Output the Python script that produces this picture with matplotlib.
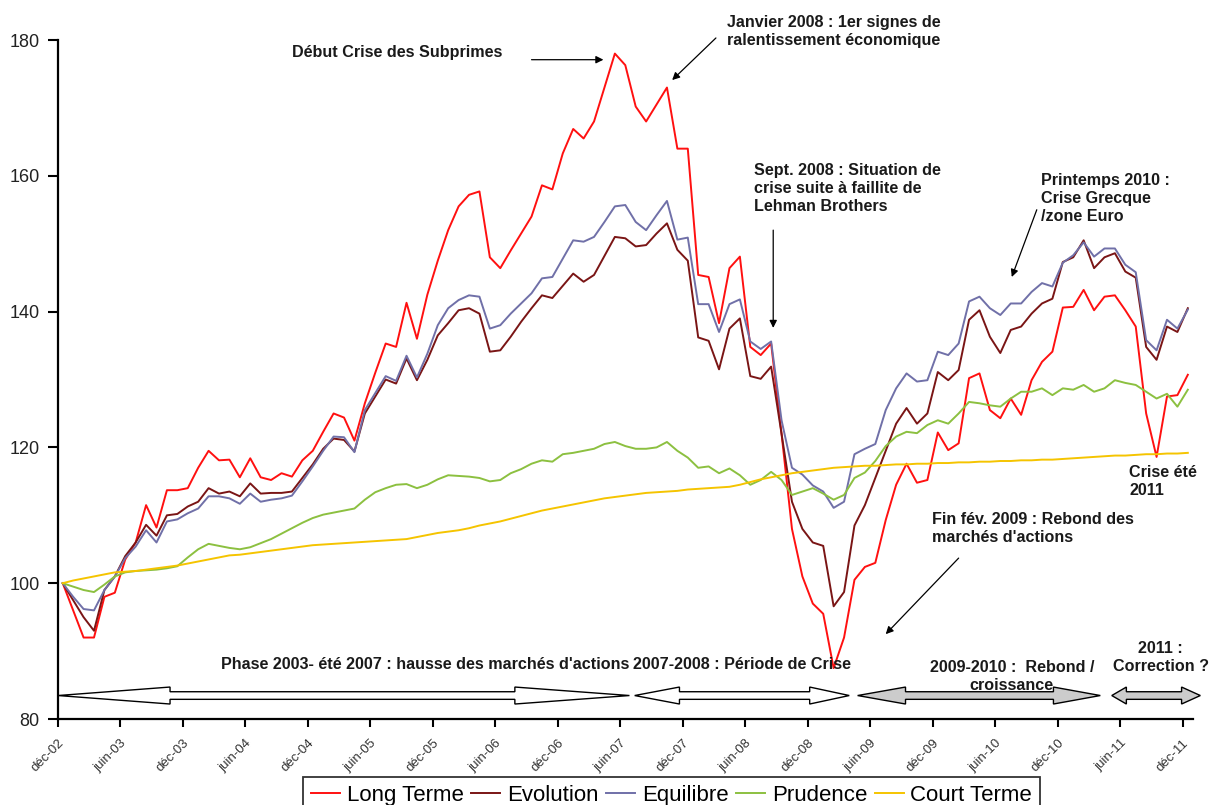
import numpy as np
import matplotlib
matplotlib.use('Agg')
import matplotlib.pyplot as plt
from matplotlib.patches import Polygon

plt.rcParams['font.family'] = ['Liberation Sans', 'DejaVu Sans']

# monthly index, dec 2002 = 100
tick_labels = ['déc-02', 'juin-03', 'déc-03', 'juin-04', 'déc-04', 'juin-05',
               'déc-05', 'juin-06', 'déc-06', 'juin-07', 'déc-07', 'juin-08',
               'déc-08', 'juin-09', 'déc-09', 'juin-10', 'déc-10', 'juin-11',
               'déc-11']

long_terme = [100, 96, 92, 92, 98, 98.6, 103.5, 106, 111.5, 108.2,
              113.7, 113.7, 114, 117, 119.5, 118.1, 118.2, 115.6, 118.4, 115.6,
              115.2, 116.2, 115.7, 118.1, 119.5, 122.3, 125, 124.4, 121, 126.5,
              131, 135.3, 134.8, 141.3, 136, 142.5, 147.5, 152, 155.5, 157.2,
              157.7, 148, 146.4, 149, 151.5, 154, 158.6, 158, 163.3, 166.9,
              165.5, 168, 173, 178, 176.3, 170.2, 168, 170.5, 173, 164,
              164, 145.4, 145.1, 138.3, 146.4, 148.1, 134.8, 133.6, 135.3, 122,
              108, 101, 97, 95.5, 87.5, 92, 100.5, 102.4, 103, 109.3,
              114.5, 117.6, 114.8, 115.2, 122.2, 119.6, 120.6, 130.2, 130.9, 125.5,
              124.3, 127.2, 124.8, 129.9, 132.6, 134.1, 140.6, 140.7, 143.2, 140.2,
              142.2, 142.4, 140.2, 137.8, 125, 118.6, 127.5, 127.7, 130.7]

evolution = [100, 97.5, 95, 93, 99, 101, 104, 106, 108.6, 107,
             110, 110.2, 111.3, 112, 114, 113.2, 113.5, 112.8, 114.7, 113.2,
             113.3, 113.3, 113.5, 115.5, 117.5, 119.8, 121.3, 121.1, 119.4, 125,
             127.5, 130, 129.4, 133.1, 129.9, 132.9, 136.5, 138.3, 140.2, 140.5,
             139.7, 134.1, 134.3, 136.3, 138.5, 140.5, 142.4, 142, 143.8, 145.6,
             144.4, 145.4, 148.2, 151, 150.8, 149.6, 149.8, 151.5, 153, 149.1,
             147.5, 136.2, 135.7, 131.5, 137.5, 139, 130.5, 130.1, 131.9, 122,
             112, 108, 106, 105.5, 96.6, 98.7, 108.5, 111.5, 115.5, 119.5,
             123.5, 125.8, 123.5, 125, 131.1, 129.9, 131.4, 138.8, 140.2, 136.3,
             133.9, 137.3, 137.8, 139.7, 141.2, 141.9, 147.3, 148, 150.5, 146.4,
             148, 148.6, 145.9, 145, 134.8, 132.9, 137.8, 137, 140.5]

equilibre = [100, 98, 96.2, 96, 99, 101, 103.7, 105.4, 107.8, 106,
             109.1, 109.4, 110.3, 111, 112.8, 112.8, 112.5, 111.7, 113.2, 112,
             112.3, 112.5, 112.9, 115, 117.2, 119.5, 121.6, 121.5, 119.3, 125.5,
             128, 130.5, 129.8, 133.5, 130.3, 133.8, 138, 140.5, 141.7, 142.4,
             142.2, 137.5, 138, 139.7, 141.2, 142.7, 144.9, 145.1, 147.8, 150.5,
             150.3, 151, 153.2, 155.5, 155.7, 153.2, 152, 154.2, 156.3, 150.6,
             150.9, 141.1, 141.1, 137, 141.1, 141.8, 135.6, 134.5, 135.6, 124,
             117, 116, 114.4, 113.5, 111.1, 112, 119, 119.8, 120.5, 125.5,
             128.7, 130.9, 129.7, 129.9, 134.1, 133.6, 135.3, 141.5, 142.2, 140.5,
             139.5, 141.2, 141.2, 142.9, 144.2, 143.7, 147.2, 148.3, 150.2, 148.1,
             149.3, 149.3, 146.9, 145.8, 135.8, 134.3, 138.8, 137.5, 140.3]

prudence = [100, 99.5, 99, 98.7, 99.8, 101, 101.6, 101.8, 101.9, 102,
            102.2, 102.5, 103.8, 105, 105.8, 105.5, 105.2, 105, 105.3, 105.9,
            106.5, 107.3, 108.1, 108.9, 109.6, 110.1, 110.4, 110.7, 111, 112.3,
            113.4, 114, 114.5, 114.6, 114, 114.5, 115.3, 115.9, 115.8, 115.7,
            115.5, 115, 115.2, 116.2, 116.8, 117.6, 118.1, 117.9, 119, 119.2,
            119.5, 119.8, 120.5, 120.8, 120.2, 119.8, 119.8, 120, 120.8, 119.5,
            118.5, 117, 117.2, 116.2, 116.9, 115.9, 114.5, 115.2, 116.4, 115.2,
            113, 113.5, 114, 113.2, 112.3, 113, 115.5, 116.3, 118, 120.2,
            121.6, 122.3, 122.1, 123.3, 124, 123.5, 125, 126.7, 126.5, 126.2,
            126, 127.2, 128.2, 128.2, 128.7, 127.7, 128.7, 128.5, 129.2, 128.2,
            128.7, 129.9, 129.5, 129.2, 128.2, 127.2, 127.9, 126, 128.5]

court_terme = [100.0, 100.4, 100.7, 101.0, 101.3, 101.6, 101.7, 101.8, 102.0, 102.2,
               102.4, 102.6, 102.9, 103.2, 103.5, 103.8, 104.1, 104.2, 104.4, 104.6,
               104.8, 105.0, 105.2, 105.4, 105.6, 105.7, 105.8, 105.9, 106.0, 106.1,
               106.2, 106.3, 106.4, 106.5, 106.8, 107.1, 107.4, 107.6, 107.8, 108.1,
               108.5, 108.8, 109.1, 109.5, 109.9, 110.3, 110.7, 111.0, 111.3, 111.6,
               111.9, 112.2, 112.5, 112.7, 112.9, 113.1, 113.3, 113.4, 113.5, 113.6,
               113.8, 113.9, 114.0, 114.1, 114.2, 114.5, 114.9, 115.3, 115.6, 115.9,
               116.2, 116.4, 116.6, 116.8, 117.0, 117.1, 117.2, 117.3, 117.3, 117.4,
               117.5, 117.5, 117.6, 117.6, 117.7, 117.7, 117.8, 117.8, 117.9, 117.9,
               118.0, 118.0, 118.1, 118.1, 118.2, 118.2, 118.3, 118.4, 118.5, 118.6,
               118.7, 118.8, 118.8, 118.9, 119.0, 119.0, 119.1, 119.1, 119.2]

series = [('Long Terme', long_terme, '#ff1010'),
          ('Evolution', evolution, '#7a1515'),
          ('Equilibre', equilibre, '#7070a8'),
          ('Prudence', prudence, '#8cc040'),
          ('Court Terme', court_terme, '#f5c400')]

x = np.arange(len(long_terme))

fig = plt.figure(figsize=(12.19, 8.05), dpi=100, facecolor='w')
ax = fig.add_axes([0.0472, 0.1068, 0.9315, 0.8435])

for name, vals, col in series:
    ax.plot(x, vals, color=col, lw=1.4, label=name)

ax.set_xlim(-0.5, 108.5)
ax.set_ylim(80, 180)
ax.set_yticks(range(80, 181, 20))
ax.set_xticks(np.arange(-0.5, 108, 6))
ax.set_xticklabels(tick_labels, rotation=45, ha='right', va='top',
                   rotation_mode='anchor', fontsize=9.5, color='#333333')
ax.tick_params(axis='x', direction='out', length=6, width=1.5, pad=7)
ax.tick_params(axis='y', direction='out', length=7, width=1.5, pad=6,
               labelsize=13, labelcolor='#222222')
for s in ['top', 'right']:
    ax.spines[s].set_visible(False)
for s in ['left', 'bottom']:
    ax.spines[s].set_linewidth(1.6)

# annotations
txt = dict(fontsize=11.6, fontweight='bold', color='#1a1a1a', linespacing=1.25)
arr = dict(arrowstyle='-|>', color='black', lw=0.9, mutation_scale=11,
           shrinkA=0, shrinkB=0)

ax.text(22.0, 178.2, 'Début Crise des Subprimes', va='center', **txt)
ax.annotate('', xy=(51.9, 177.1), xytext=(45.0, 177.1), arrowprops=arr,
            annotation_clip=False)

ax.text(63.8, 181.25, 'Janvier 2008 : 1er signes de\nralentissement économique',
        va='center', **txt)
ax.annotate('', xy=(58.5, 174.1), xytext=(62.7, 180.3), arrowprops=arr,
            annotation_clip=False)

ax.text(66.4, 158.2, 'Sept. 2008 : Situation de\ncrise suite à faillite de\nLehman Brothers',
        va='center', **txt)
ax.annotate('', xy=(68.2, 137.6), xytext=(68.2, 152.0), arrowprops=arr)

ax.text(93.9, 156.7, 'Printemps 2010 :\nCrise Grecque\n/zone Euro', va='center', **txt)
ax.annotate('', xy=(91.1, 145.1), xytext=(93.5, 155.0), arrowprops=arr)

ax.text(102.4, 115.05, 'Crise été\n2011', va='center', **txt)

ax.text(83.4, 108.0, "Fin fév. 2009 : Rebond des\nmarchés d'actions", va='center', **txt)
ax.annotate('', xy=(79.0, 92.5), xytext=(86.0, 103.7), arrowprops=arr)

ax.text(15.2, 88.1, "Phase 2003- été 2007 : hausse des marchés d'actions",
        va='center', **txt)
ax.text(54.7, 88.1, '2007-2008 : Période de Crise', va='center', **txt)
ax.text(91.1, 86.33, '2009-2010 :  Rebond /\ncroissance', va='center',
        ha='center', **txt)
ax.text(105.4, 89.06, '2011 :\nCorrection ?', va='center', ha='center',
        **txt)


def block_arrow(x0, x1, h0, h1, fill):
    yc, sw, hw = 83.46, 0.56, 1.25
    pts = [(x0, yc), (x0 + h0, yc + hw), (x0 + h0, yc + sw),
           (x1 - h1, yc + sw), (x1 - h1, yc + hw), (x1, yc),
           (x1 - h1, yc - hw), (x1 - h1, yc - sw), (x0 + h0, yc - sw),
           (x0 + h0, yc - hw)]
    ax.add_patch(Polygon(pts, closed=True, facecolor=fill, edgecolor='black',
                         lw=1.0, clip_on=False, zorder=4))


block_arrow(-0.45, 54.4, 10.75, 11.0, 'white')
block_arrow(54.9, 75.5, 4.3, 3.8, 'white')
block_arrow(76.3, 99.6, 4.6, 4.5, '#cccccc')
block_arrow(100.7, 109.2, 1.4, 1.8, '#cccccc')

leg = ax.legend(loc='upper center', bbox_to_anchor=(0.551, 0.0348),
                bbox_transform=fig.transFigure, ncol=5, fontsize=16,
                frameon=True, fancybox=False, edgecolor='black',
                handlelength=1.3, handletextpad=0.3, columnspacing=0.35,
                borderpad=0.35, borderaxespad=0)
leg.get_frame().set_linewidth(1.3)

fig.savefig('out.png', dpi=100)
